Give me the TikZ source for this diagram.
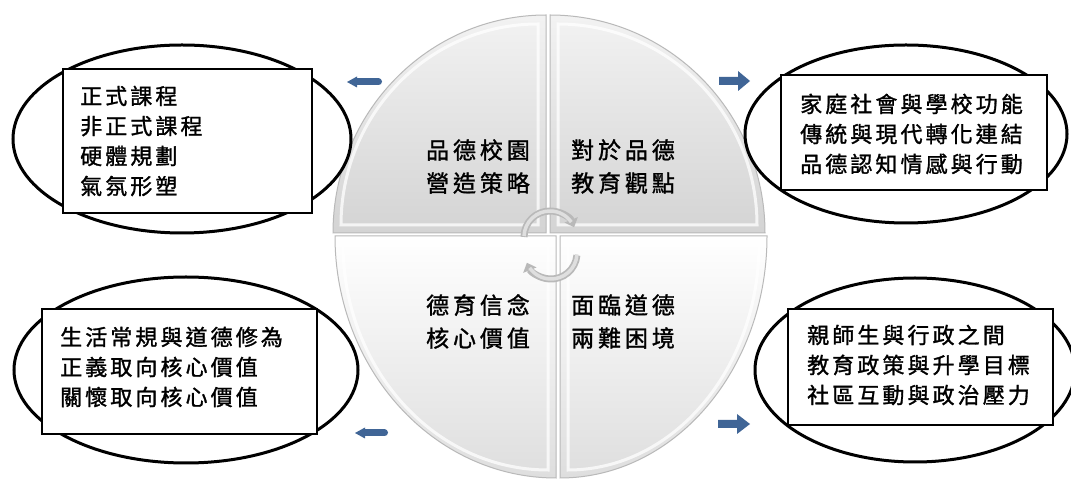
\documentclass[tikz,border=0pt]{standalone}
\usepackage{fontspec}
\newfontfamily\cjk[FakeBold=1.3]{Noto Sans CJK TC}
\usetikzlibrary{arrows.meta,shapes.geometric}
\definecolor{arrowblue}{RGB}{64,101,150}
\begin{document}
\begin{tikzpicture}[x=1pt,y=1pt,
  ring/.style={ellipse, draw=black, line width=3pt, fill=white, inner sep=0pt},
  box/.style={rectangle, draw=black, line width=1.5pt, fill=white, inner sep=0pt},
  boxtext/.style={font=\cjk\addfontfeature{LetterSpace=14}\fontsize{22pt}{30pt}\selectfont, align=left, inner sep=0pt, anchor=west},
  quadtext/.style={font=\cjk\addfontfeature{LetterSpace=17}\fontsize{23pt}{33pt}\selectfont, align=center, inner sep=0pt},
  toppiece/.style={draw=gray!55, line width=1pt, top color=gray!10, bottom color=gray!34},
  botpiece/.style={draw=gray!55, line width=1pt, top color=white, bottom color=gray!26},
  bevel/.style={draw=white, line width=3pt, opacity=0.75},
  cyclearc/.style={draw=gray!55, line width=7pt, -{Triangle[length=8pt,width=14pt]}},
  cycleinner/.style={draw=gray!25, line width=3.5pt},
  bluearrow/.style={fill=arrowblue}]
\useasboundingbox (0,0) rectangle (1071,479);
\fill[white] (0,0) rectangle (1071,479);

% four quadrant pieces
\path[toppiece] (546,246) -- (546,464) arc[start angle=90,end angle=180,x radius=213,y radius=218] -- cycle;
\path[bevel] (538,254) -- (538,455) arc[start angle=90,end angle=180,x radius=197,y radius=201] -- cycle;
\path[toppiece] (550,246) -- (550,464) arc[start angle=90,end angle=0,x radius=215,y radius=218] -- cycle;
\path[bevel] (558,254) -- (558,455) arc[start angle=90,end angle=0,x radius=199,y radius=201] -- cycle;
\path[botpiece] (556,243) -- (335,243) arc[start angle=180,end angle=270,x radius=221,y radius=242] -- cycle;
\path[bevel] (548,235) -- (343,235) arc[start angle=180,end angle=270,x radius=205,y radius=226] -- cycle;
\path[botpiece] (560,243) -- (560,1) arc[start angle=270,end angle=360,x radius=207,y radius=242] -- cycle;
\path[bevel] (568,235) -- (568,9) arc[start angle=270,end angle=360,x radius=191,y radius=226] -- cycle;

% quadrant texts
\node[quadtext] (qtl) at (478,312.5) {品德校園\\營造策略};
\node[quadtext] (qtr) at (623,312.5) {對於品德\\教育觀點};
\node[quadtext] (qbl) at (478,157.5) {德育信念\\核心價值};
\node[quadtext] (qbr) at (623,157.5) {面臨道德\\兩難困境};

% cycle arrows
\coordinate (cu) at (550,242);
\coordinate (cl) at (551,226);
\draw[cyclearc] (cu) ++(180:26) arc[start angle=180,end angle=22,radius=26];
\draw[cycleinner] (cu) ++(178:26) arc[start angle=178,end angle=35,radius=26];
\draw[cyclearc] (cl) ++(-5:26) arc[start angle=-5,end angle=-158,radius=26];
\draw[cycleinner] (cl) ++(-3:26) arc[start angle=-3,end angle=-145,radius=26];

% outer ellipses
\node[ring, minimum width=338pt, minimum height=188pt] (tlring) at (182,340) {};
\node[ring, minimum width=322pt, minimum height=178pt] (trring) at (906,345) {};
\node[ring, minimum width=344pt, minimum height=186pt] (blring) at (186,109) {};
\node[ring, minimum width=320pt, minimum height=184pt] (brring) at (915,109) {};

% rectangles
\node[box, minimum width=249pt, minimum height=144pt] (tlbox) at (187.5,338) {};
\node[box, minimum width=266pt, minimum height=115pt] (trbox) at (914,346.5) {};
\node[box, minimum width=275pt, minimum height=125pt] (blbox) at (179.5,107.5) {};
\node[box, minimum width=265pt, minimum height=116pt] (brbox) at (920.5,112) {};

% box texts
\node[boxtext] (tltext) at (80,338) {正式課程\\非正式課程\\硬體規劃\\氣氛形塑};
\node[boxtext] (trtext) at (800,345) {家庭社會與學校功能\\傳統與現代轉化連結\\品德認知情感與行動};
\node[boxtext] (bltext) at (60,112) {生活常規與道德修為\\正義取向核心價值\\關懷取向核心價值};
\node[boxtext] (brtext) at (807,114) {親師生與行政之間\\教育政策與升學目標\\社區互動與政治壓力};

% blue arrows
\draw[arrowblue, line width=7pt, line cap=round] (378.5,397) -- (356,397);
\fill[bluearrow] (347,397) -- (357,402.5) -- (357,391.5) -- cycle;
\draw[arrowblue, line width=7pt, line cap=round] (384.5,46) -- (364,46);
\fill[bluearrow] (355,46) -- (365,51.5) -- (365,40.5) -- cycle;
\fill[bluearrow] (719,394) -- (738,394) -- (738,388) -- (750,398) -- (738,408) -- (738,402) -- (719,402) -- cycle;
\fill[bluearrow] (718,51) -- (737,51) -- (737,45) -- (750,55) -- (737,65) -- (737,59) -- (718,59) -- cycle;
\end{tikzpicture}
\end{document}
